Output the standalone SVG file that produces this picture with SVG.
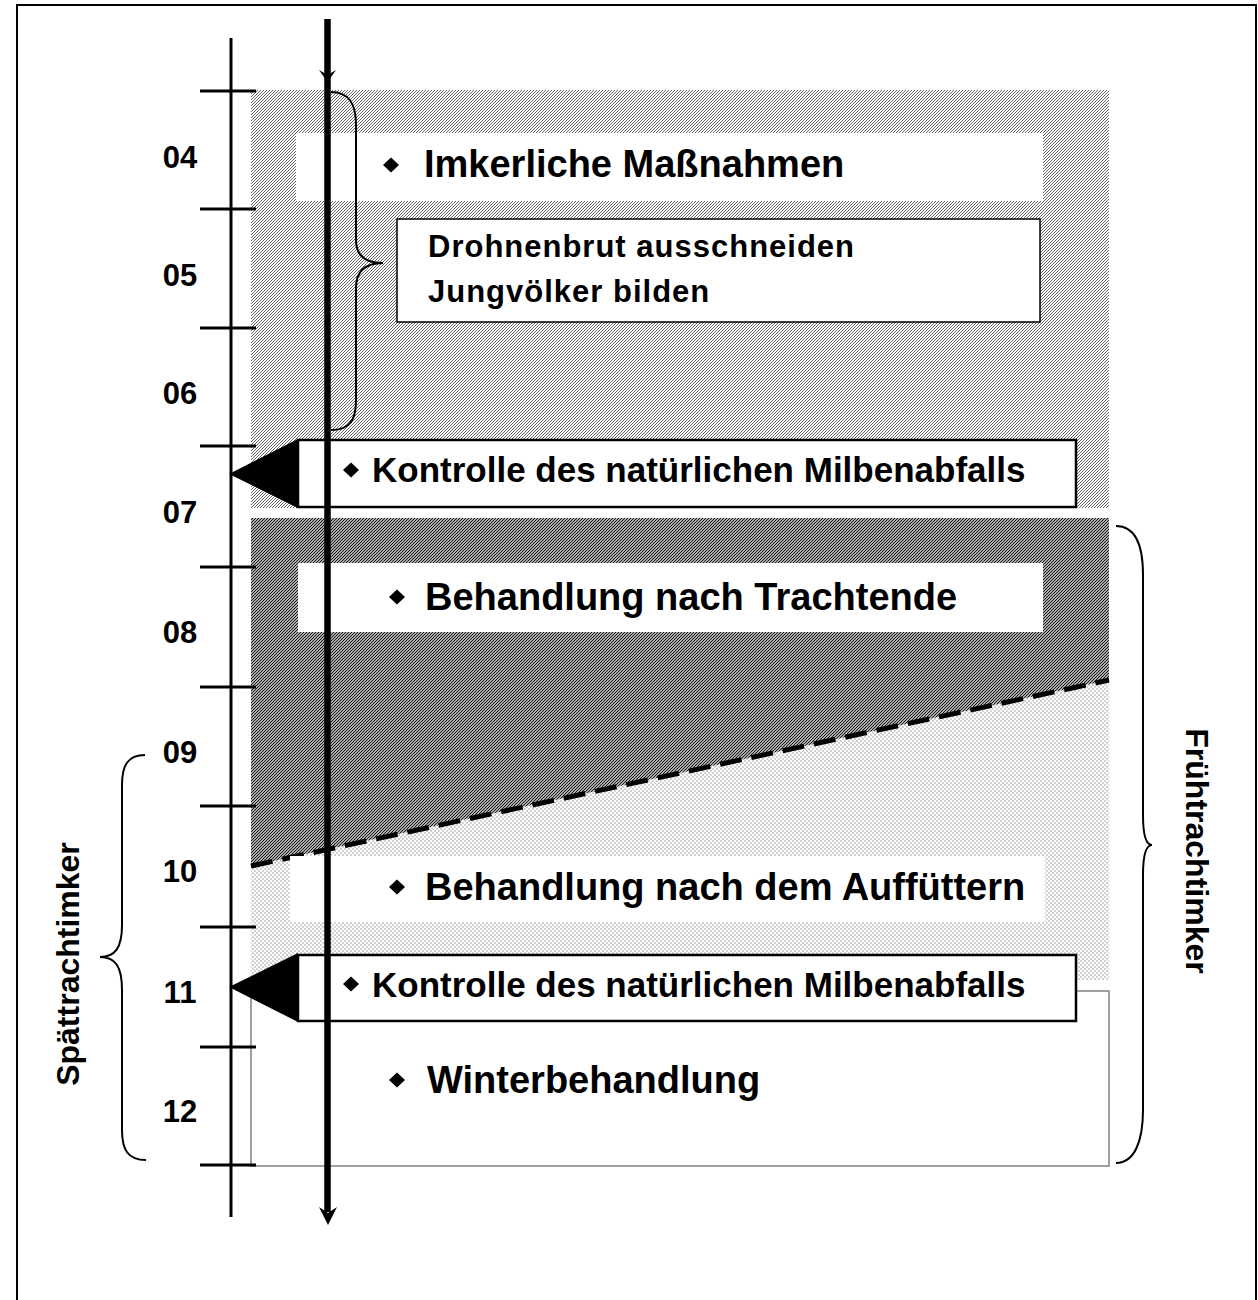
<svg xmlns="http://www.w3.org/2000/svg" width="1258" height="1300" viewBox="0 0 1258 1300">
<style>
text{font-family:"Liberation Sans",Arial,sans-serif;font-weight:bold;fill:#000}
.m{font-size:31px;text-anchor:middle}
.big{font-size:38px}
.ctl{font-size:35px}
.sm{font-size:31px;letter-spacing:1px}
.rot{font-size:32px;text-anchor:middle}
.tick{stroke:#000;stroke-width:3}
.brace{fill:none;stroke:#000;stroke-width:2}
.band{fill:#fff}
.box{fill:#fff;stroke:#000;stroke-width:2.5}
</style>
<defs>
<pattern id="hLight" patternUnits="userSpaceOnUse" width="3" height="3">
<rect width="3" height="3" fill="#fff"/>
<path d="M-1,1 L1,-1 M0,3 L3,0 M2,4 L4,2" stroke="#666" stroke-width="1"/>
</pattern>
<pattern id="hDark" patternUnits="userSpaceOnUse" width="3" height="3">
<rect width="3" height="3" fill="#aaa"/>
<path d="M-1,1 L1,-1 M0,3 L3,0 M2,4 L4,2" stroke="#1a1a1a" stroke-width="1"/>
</pattern>
<pattern id="hDot" patternUnits="userSpaceOnUse" width="4" height="4">
<rect width="4" height="4" fill="#fff"/>
<circle cx="1" cy="1" r="0.8" fill="#9a9a9a"/>
<circle cx="3" cy="3" r="0.8" fill="#9a9a9a"/>
</pattern>
<path id="dia" d="M0,-7.5 L8,0 L0,7.5 L-8,0Z" fill="#000"/>
</defs>

<rect x="17" y="5" width="1239" height="1310" fill="#fff" stroke="#000" stroke-width="2"/>

<g id="areas">
<rect x="251" y="90" width="858" height="418" fill="url(#hLight)"/>
<polygon points="251,866 1109,680 1109,980 251,980" fill="url(#hDot)"/>
<polygon points="251,518 1109,518 1109,680 251,866" fill="url(#hDark)"/>
<rect x="251" y="991" width="858" height="175" fill="#fff" stroke="#808080" stroke-width="1.5"/>
</g>

<g id="dashed-boundary">
<line x1="251" y1="866" x2="1109" y2="680" stroke="#000" stroke-width="5" stroke-dasharray="22,10"/>
</g>

<g id="node-imkerliche">
<rect class="band" x="296" y="133" width="747" height="68"/>
<use href="#dia" x="391" y="165"/>
<text class="big" x="424" y="177">Imkerliche Maßnahmen</text>
</g>

<g id="node-drohnenbrut">
<rect x="397" y="219" width="643" height="103" fill="#fff" stroke="#000" stroke-width="1.5"/>
<text class="sm" x="428" y="257">Drohnenbrut ausschneiden</text>
<text class="sm" x="428" y="302">Jungvölker bilden</text>
</g>

<g id="node-kontrolle1">
<rect class="box" x="298" y="440" width="778" height="67"/>
<polygon points="229,474 298,439 298,508" fill="#000"/>
<use href="#dia" x="351" y="470"/>
<text class="ctl" x="372" y="482">Kontrolle des natürlichen Milbenabfalls</text>
</g>

<g id="node-trachtende">
<rect class="band" x="298" y="563" width="745" height="69"/>
<use href="#dia" x="397" y="597"/>
<text class="big" x="425" y="610">Behandlung nach Trachtende</text>
</g>

<g id="node-auffuettern">
<rect class="band" x="290" y="856" width="755" height="66"/>
<use href="#dia" x="397" y="887"/>
<text class="big" x="425" y="900">Behandlung nach dem Auffüttern</text>
</g>

<g id="node-kontrolle2">
<rect class="box" x="298" y="955" width="778" height="66"/>
<polygon points="229,987 298,953 298,1022" fill="#000"/>
<use href="#dia" x="351" y="984"/>
<text class="ctl" x="372" y="997">Kontrolle des natürlichen Milbenabfalls</text>
</g>

<g id="node-winter">
<use href="#dia" x="397" y="1080"/>
<text class="big" x="427" y="1093">Winterbehandlung</text>
</g>

<g id="axis">
<line x1="231" y1="38" x2="231" y2="1217" stroke="#000" stroke-width="3"/>
<line class="tick" x1="200" y1="91" x2="256" y2="91"/>
<line class="tick" x1="200" y1="209" x2="256" y2="209"/>
<line class="tick" x1="200" y1="328" x2="256" y2="328"/>
<line class="tick" x1="200" y1="446" x2="256" y2="446"/>
<line class="tick" x1="200" y1="567" x2="256" y2="567"/>
<line class="tick" x1="200" y1="687" x2="256" y2="687"/>
<line class="tick" x1="200" y1="806" x2="256" y2="806"/>
<line class="tick" x1="200" y1="927" x2="256" y2="927"/>
<line class="tick" x1="200" y1="1047" x2="256" y2="1047"/>
<line class="tick" x1="200" y1="1165" x2="256" y2="1165"/>
<text class="m" x="180" y="168">04</text>
<text class="m" x="180" y="286">05</text>
<text class="m" x="180" y="404">06</text>
<text class="m" x="180" y="523">07</text>
<text class="m" x="180" y="643">08</text>
<text class="m" x="180" y="763">09</text>
<text class="m" x="180" y="882">10</text>
<text class="m" x="180" y="1003">11</text>
<text class="m" x="180" y="1122">12</text>
</g>

<g id="connectors">
<line x1="327.5" y1="19" x2="327.5" y2="1212" stroke="#000" stroke-width="6.5"/>
<polygon points="327.5,82 319,70 327.5,75 336,70" fill="#000"/>
<polygon points="328,1225 319,1207 328,1213 337,1207" fill="#000"/>
<path class="brace" d="M331,92 C350,92 356,105 356,125 L356,240 C356,255 365,263 383,263 C365,263 356,272 356,288 L356,400 C356,420 350,430 331,430"/>
<path class="brace" d="M1116,526 C1135,526 1143,545 1143,575 L1143,815 C1143,835 1146,845 1152,845 C1146,845 1143,855 1143,875 L1143,1110 C1143,1140 1135,1163 1116,1163"/>
<path class="brace" d="M145,755 C128,755 122,765 122,785 L122,925 C122,948 115,957 100,957 C115,957 122,966 122,990 L122,1130 C122,1150 128,1160 146,1160"/>
</g>

<g id="labels">
<text class="rot" transform="translate(1186,851) rotate(90)">Frühtrachtimker</text>
<text class="rot" transform="translate(79,964) rotate(-90)">Spättrachtimker</text>
</g>
</svg>
